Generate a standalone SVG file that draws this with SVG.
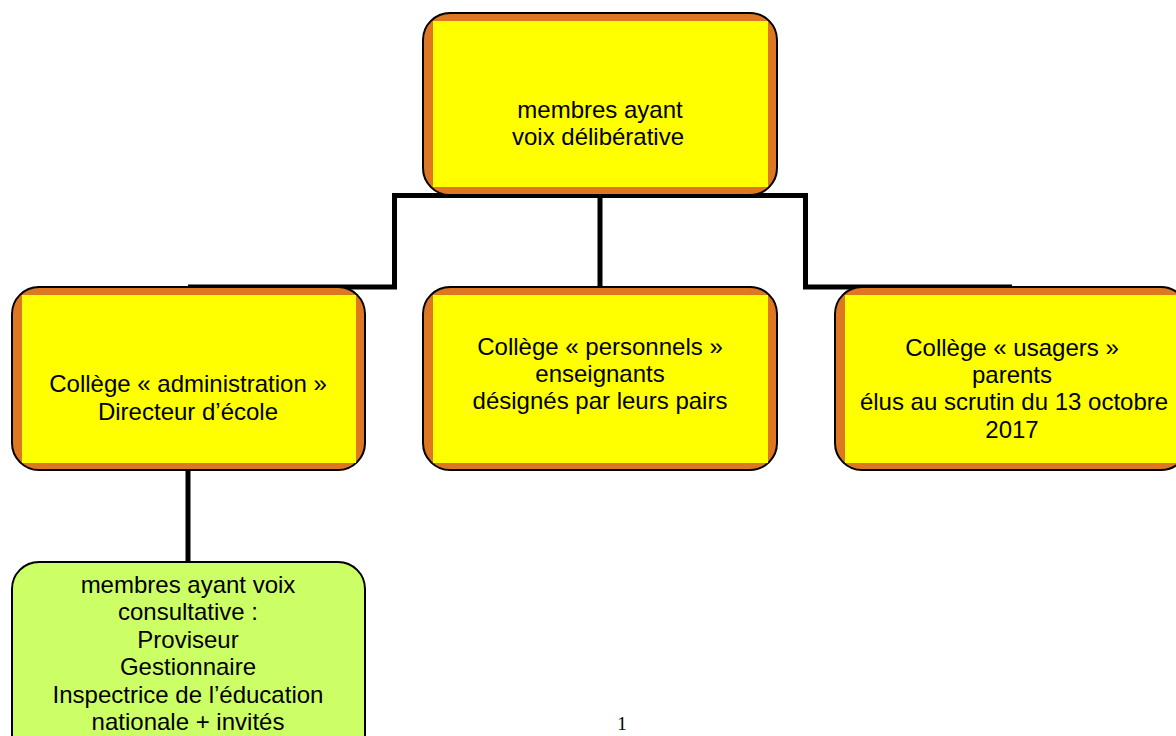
<svg xmlns="http://www.w3.org/2000/svg" width="1176" height="736" viewBox="0 0 1176 736">
<style>
.frame{fill:#DD7722;stroke:#000;stroke-width:2}
.inner{fill:#FFFF00}
.green{fill:#CCFF66;stroke:#000;stroke-width:2}
.lbl{font-family:"Liberation Sans",Arial,sans-serif;font-size:24px;fill:#000;text-anchor:middle}
.conn{fill:none;stroke:#000;stroke-width:5}
</style>
<rect width="1176" height="736" fill="#fff"/>
<g id="connectors">
<path class="conn" d="M188 287 H394.5 V195.5 H805.5 V287 H1012"/>
<path class="conn" d="M600 195.5 V287"/>
<path class="conn" d="M188 470 V562"/>
</g>
<g id="node-deliberative">
<rect class="frame" x="423" y="13" width="354" height="182" rx="27"/>
<rect class="inner" x="433" y="21" width="335" height="166"/>
<text class="lbl" x="600" y="118">membres ayant</text>
<text class="lbl" x="598" y="145">voix délibérative</text>
</g>
<g id="node-administration">
<rect class="frame" x="12" y="287" width="353" height="183" rx="27"/>
<rect class="inner" x="22" y="295" width="334" height="168"/>
<text class="lbl" x="188" y="392">Collège « administration »</text>
<text class="lbl" x="188" y="420">Directeur d’école</text>
</g>
<g id="node-personnels">
<rect class="frame" x="423" y="287" width="354" height="183" rx="27"/>
<rect class="inner" x="433" y="295" width="335" height="168"/>
<text class="lbl" x="600" y="355">Collège « personnels »</text>
<text class="lbl" x="600" y="382">enseignants</text>
<text class="lbl" x="600" y="409">désignés par leurs pairs</text>
</g>
<g id="node-usagers">
<rect class="frame" x="835" y="287" width="353" height="183" rx="27"/>
<rect class="inner" x="845" y="295" width="334" height="168"/>
<text class="lbl" x="1012" y="356">Collège « usagers »</text>
<text class="lbl" x="1012" y="383">parents</text>
<text class="lbl" x="1014" y="410">élus au scrutin du 13 octobre</text>
<text class="lbl" x="1012" y="438">2017</text>
</g>
<g id="node-consultative">
<rect class="green" x="12" y="562" width="353" height="200" rx="27"/>
<text class="lbl" x="188" y="593">membres ayant voix</text>
<text class="lbl" x="188" y="620">consultative :</text>
<text class="lbl" x="188" y="648">Proviseur</text>
<text class="lbl" x="188" y="675">Gestionnaire</text>
<text class="lbl" x="188" y="703">Inspectrice de l’éducation</text>
<text class="lbl" x="188" y="730">nationale + invités</text>
</g>
<text x="622" y="730" font-family="'Liberation Serif','Times New Roman',serif" font-size="19" text-anchor="middle">1</text>
</svg>
